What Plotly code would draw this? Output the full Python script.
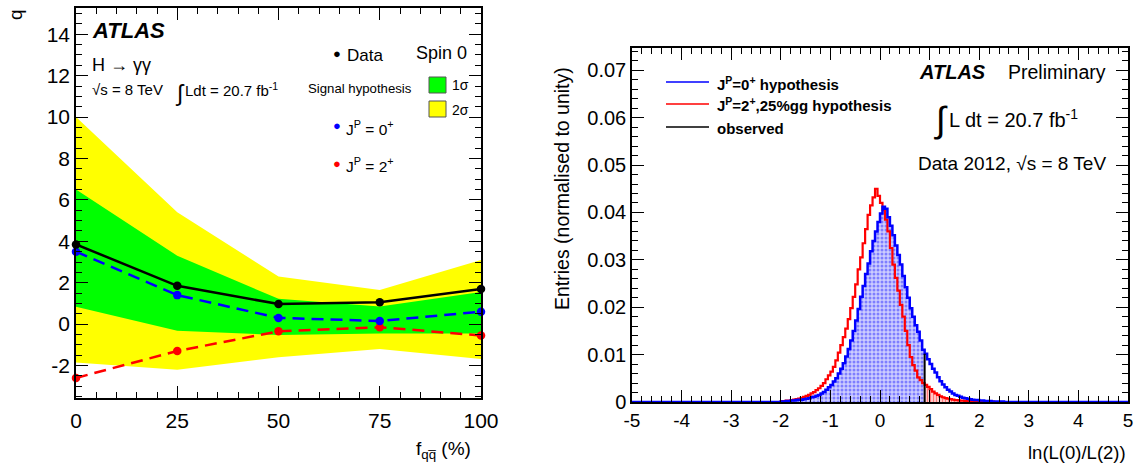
import plotly.graph_objects as go

W, H = 1137, 468

# ---------------- Left panel data ----------------
f_qq = [0, 25, 50, 75, 100]
q_data = [3.85, 1.85, 0.97, 1.05, 1.70]
q_spin0 = [3.50, 1.40, 0.30, 0.15, 0.60]
q_spin2 = [-2.60, -1.30, -0.35, -0.15, -0.55]
band1_up = [6.50, 3.30, 1.22, 0.85, 1.55]
band1_lo = [0.84, -0.32, -0.53, -0.45, -0.45]
band2_up = [10.0, 5.40, 2.30, 1.65, 3.10]
band2_lo = [-1.86, -2.20, -1.60, -1.20, -1.68]
left_x_ticks = [0, 25, 50, 75, 100]
left_y_ticks = [-2, 0, 2, 4, 6, 8, 10, 12, 14]

# ---------------- Right panel data ----------------
hist_start = -2.0
bin_w = 0.05
blue_vals = [
    0.0001, 0.0001, 0.0002, 0.0002, 0.0003, 0.0003, 0.0004, 0.0005, 0.0005, 0.0006,
    0.0007, 0.0008, 0.0010, 0.0011, 0.0013, 0.0015, 0.0018, 0.0021, 0.0026, 0.0031,
    0.0036, 0.0043, 0.0050, 0.0060, 0.0070, 0.0082, 0.0096, 0.0112, 0.0130, 0.0150,
    0.0172, 0.0196, 0.0222, 0.0245, 0.0270, 0.0292, 0.0318, 0.0340, 0.0360, 0.0380,
    0.0398, 0.0412, 0.0408, 0.0390, 0.0372, 0.0352, 0.0330, 0.0310, 0.0290, 0.0266,
    0.0242, 0.0220, 0.0198, 0.0180, 0.0162, 0.0148, 0.0130, 0.0110, 0.0102, 0.0090,
    0.0080, 0.0070, 0.0062, 0.0052, 0.0044, 0.0037, 0.0031, 0.0026, 0.0022, 0.0018,
    0.0015, 0.0013, 0.0011, 0.0009, 0.0008, 0.0007, 0.0006, 0.0005, 0.0004, 0.0004,
    0.0003, 0.0003, 0.0002, 0.0002, 0.0002, 0.0001, 0.0001, 0.0001, 0.0001, 0.0001,
]
red_vals = [
    0.0002, 0.0002, 0.0003, 0.0003, 0.0004, 0.0005, 0.0006, 0.0007, 0.0009, 0.0011,
    0.0013, 0.0015, 0.0018, 0.0021, 0.0025, 0.0029, 0.0034, 0.0040, 0.0048, 0.0056,
    0.0064, 0.0074, 0.0088, 0.0104, 0.0120, 0.0137, 0.0155, 0.0175, 0.0198, 0.0222,
    0.0248, 0.0280, 0.0305, 0.0335, 0.0365, 0.0395, 0.0415, 0.0432, 0.0450, 0.0435,
    0.0420, 0.0405, 0.0385, 0.0360, 0.0325, 0.0290, 0.0262, 0.0235, 0.0205, 0.0180,
    0.0150, 0.0120, 0.0095, 0.0078, 0.0066, 0.0052, 0.0046, 0.0040, 0.0036, 0.0032,
    0.0027, 0.0022, 0.0018, 0.0015, 0.0012, 0.0010, 0.0008, 0.0007, 0.0006, 0.0005,
    0.0004, 0.0004, 0.0003, 0.0003, 0.0002, 0.0002, 0.0002, 0.0001, 0.0001, 0.0001,
    0.0001, 0.0001, 0.0001, 0.0001, 0.0001, 0.0001, 0.0000, 0.0000, 0.0000, 0.0000,
]
observed = 0.9
x_full = [-5, 5]
right_x_ticks = [-5, -4, -3, -2, -1, 0, 1, 2, 3, 4, 5]
right_y_ticks = [0, 0.01, 0.02, 0.03, 0.04, 0.05, 0.06, 0.07]
right_y_labels = ["0", "0.01", "0.02", "0.03", "0.04", "0.05", "0.06", "0.07"]

FONT = "Liberation Sans, Arial, Helvetica, sans-serif"

fig = go.Figure()

# ---- left: bands
fig.add_trace(go.Scatter(x=f_qq + f_qq[::-1], y=band2_up + band2_lo[::-1], fill="toself",
                         fillcolor="#ffff00", line=dict(width=0), mode="lines",
                         hoverinfo="skip", xaxis="x", yaxis="y"))
fig.add_trace(go.Scatter(x=f_qq + f_qq[::-1], y=band1_up + band1_lo[::-1], fill="toself",
                         fillcolor="#00ff00", line=dict(width=0), mode="lines",
                         hoverinfo="skip", xaxis="x", yaxis="y"))
fig.add_trace(go.Scatter(x=f_qq, y=q_spin2, mode="lines+markers",
                         line=dict(color="#ff0000", width=2.5, dash="12px,7px"),
                         marker=dict(color="#ff0000", size=8.5), cliponaxis=False,
                         xaxis="x", yaxis="y"))
fig.add_trace(go.Scatter(x=f_qq, y=q_spin0, mode="lines+markers",
                         line=dict(color="#0000ff", width=2.5, dash="12px,7px"),
                         marker=dict(color="#0000ff", size=8.5), cliponaxis=False,
                         xaxis="x", yaxis="y"))
fig.add_trace(go.Scatter(x=f_qq, y=q_data, mode="lines+markers",
                         line=dict(color="#000000", width=2.5),
                         marker=dict(color="#000000", size=8.5), cliponaxis=False,
                         xaxis="x", yaxis="y"))

# ---- right: histograms
edges = [round(hist_start + i * bin_w, 4) for i in range(len(blue_vals) + 1)]


def step_xy(vals, lo=None, hi=None):
    xs, ys = [], []
    for i, v in enumerate(vals):
        e0, e1 = edges[i], edges[i + 1]
        if lo is not None and e1 <= lo:
            continue
        if hi is not None and e0 >= hi:
            continue
        xs.append(max(e0, lo) if lo is not None else e0)
        ys.append(v)
    last_edge = hi if hi is not None else edges[-1]
    xs.append(last_edge)
    ys.append(ys[-1])
    return xs, ys


bx, by = step_xy(blue_vals, hi=observed)
fig.add_trace(go.Scatter(x=bx, y=by, mode="lines", line=dict(width=0, shape="hv"),
                         fill="tozeroy", fillcolor="rgba(110,110,235,0.55)",
                         fillpattern=dict(shape=".", fgcolor="#3030ff", bgcolor="rgba(200,200,255,0.9)",
                                          size=4, solidity=0.45),
                         hoverinfo="skip", xaxis="x2", yaxis="y2"))
rx, ry = step_xy(red_vals, lo=observed)
fig.add_trace(go.Scatter(x=rx, y=ry, mode="lines", line=dict(width=0, shape="hv"),
                         fill="tozeroy", fillcolor="rgba(255,120,120,0.5)",
                         fillpattern=dict(shape="|", fgcolor="#ff2020", bgcolor="rgba(255,210,210,0.9)",
                                          size=3, solidity=0.45),
                         hoverinfo="skip", xaxis="x2", yaxis="y2"))

for vals, col, wd in [(red_vals, "#ff0000", 2.2), (blue_vals, "#0000ff", 2.5)]:
    sx = [x_full[0]] + [edges[i] for i in range(len(vals))] + [edges[-1], x_full[1]]
    sy = [0] + list(vals) + [0, 0]
    fig.add_trace(go.Scatter(x=sx, y=sy, mode="lines", line=dict(color=col, width=wd, shape="hv"),
                             hoverinfo="skip", xaxis="x2", yaxis="y2"))

obs_idx = int(round((observed - hist_start) / bin_w))
obs_h = blue_vals[obs_idx]
fig.add_trace(go.Scatter(x=[observed, observed], y=[0, obs_h], mode="lines",
                         line=dict(color="black", width=2), hoverinfo="skip",
                         xaxis="x2", yaxis="y2"))


def px(x):
    return x / W


def py(y):
    return 1 - y / H


common_axis = dict(showgrid=False, zeroline=False, showline=True, linecolor="black",
                   linewidth=1.5, mirror="ticks", ticks="inside", tickcolor="black",
                   tickwidth=1.2, automargin=False)

fig.update_layout(
    width=W, height=H, margin=dict(l=0, r=0, t=0, b=0, autoexpand=False),
    paper_bgcolor="white", plot_bgcolor="white", showlegend=False,
    font=dict(family=FONT, color="black"),
    xaxis=dict(domain=[px(76), px(481)], range=[0, 100], tickvals=left_x_ticks,
               ticktext=[str(v) for v in left_x_ticks], ticklen=12, ticklabelstandoff=3,
               tickfont=dict(family=FONT, size=21, color="black"),
               minor=dict(ticks="inside", dtick=5, ticklen=6, tickcolor="black"),
               anchor="y", **common_axis),
    yaxis=dict(domain=[1 - 398 / H, 1 - 8 / H], range=[-3.57, 15.27],
               tickvals=left_y_ticks, ticktext=[str(v) for v in left_y_ticks], ticklen=12,
               tickfont=dict(family=FONT, size=21, color="black"),
               minor=dict(ticks="inside", dtick=0.5, ticklen=6, tickcolor="black"),
               anchor="x", **common_axis),
    xaxis2=dict(domain=[px(632), px(1128)], range=[-5, 5], tickvals=right_x_ticks,
                ticktext=[str(v) for v in right_x_ticks], ticklen=12,
                tickfont=dict(family=FONT, size=19, color="black"),
                minor=dict(ticks="inside", dtick=0.2, ticklen=6, tickcolor="black"),
                anchor="y2", **common_axis),
    yaxis2=dict(domain=[1 - 402 / H, 1 - 48 / H], range=[0, 0.0747],
                tickvals=right_y_ticks, ticktext=right_y_labels, ticklen=12,
                tickfont=dict(family=FONT, size=20, color="black"),
                minor=dict(ticks="inside", dtick=0.002, ticklen=6, tickcolor="black"),
                anchor="x2", **common_axis),
)


def ann(x, y, text, size, xanchor="left", yanchor="middle", color="black", angle=0):
    fig.add_annotation(x=px(x), y=py(y), xref="paper", yref="paper", text=text, showarrow=False,
                       xanchor=xanchor, yanchor=yanchor, textangle=angle,
                       font=dict(family=FONT, size=size, color=color))


# ---- left texts
ann(90, 31, "<b><i>ATLAS</i></b>", 22)
ann(90, 65, "H \u2192 \u03b3\u03b3", 18)
ann(90, 90, "\u221as = 8 TeV", 15)
ann(173, 93, "\u222b", 23)
ann(183, 90, "Ldt = 20.7 fb<sup>-1</sup>", 15)
ann(331, 53, "\u25cf", 13)
ann(345, 55, "Data", 17)
ann(414, 53, "Spin 0", 18)
ann(306, 88, "Signal hypothesis", 13.2)
fig.add_shape(type="rect", xref="paper", yref="paper", x0=px(429), x1=px(446), y0=py(93), y1=py(77),
              fillcolor="#00ff00", line=dict(color="#555555", width=1))
fig.add_shape(type="rect", xref="paper", yref="paper", x0=px(429), x1=px(446), y0=py(117), y1=py(101),
              fillcolor="#ffff00", line=dict(color="#555555", width=1))
ann(450, 85, "1\u03c3", 14)
ann(450, 110, "2\u03c3", 14)
ann(331, 126, "\u25cf", 13, color="#0000ff")
ann(344, 128, "J<sup>P</sup> = 0<sup>+</sup>", 15.5)
ann(331, 163, "\u25cf", 13, color="#ff0000")
ann(344, 165, "J<sup>P</sup> = 2<sup>+</sup>", 15.5)
ann(16, 15, "q", 19, xanchor="center", angle=-90)
ann(473, 450, "f<sub>q</sub><sub>q\u0305</sub> (%)", 19, xanchor="right")

# ---- right texts
ann(562, 189, "Entries (normalised to unity)", 19.5, xanchor="center", angle=-90)
ann(1128, 452, "ln(L(0)/L(2))", 18.5, xanchor="right")
for yy, col in [(82, "#0000ff"), (104, "#ff0000"), (127, "#000000")]:
    fig.add_shape(type="line", xref="paper", yref="paper", x0=px(666), x1=px(709), y0=py(yy), y1=py(yy),
                  line=dict(color=col, width=1.5))
ann(715, 83, "<b>J<sup>P</sup>=0<sup>+</sup> hypothesis</b>", 15)
ann(715, 105, "<b>J<sup>P</sup>=2<sup>+</sup>,25%gg hypothesis</b>", 15)
ann(715, 128, "<b>observed</b>", 15)
ann(917, 72, "<b><i>ATLAS</i></b>", 20)
ann(1108, 72, "Preliminary", 19.5, xanchor="right")
ann(932, 120, "\u222b", 36)
ann(947, 118, "L dt = 20.7 fb<sup>-1</sup>", 20)
ann(1108, 163, "Data 2012, \u221as = 8 TeV", 19, xanchor="right")

fig.write_html("out.html")
